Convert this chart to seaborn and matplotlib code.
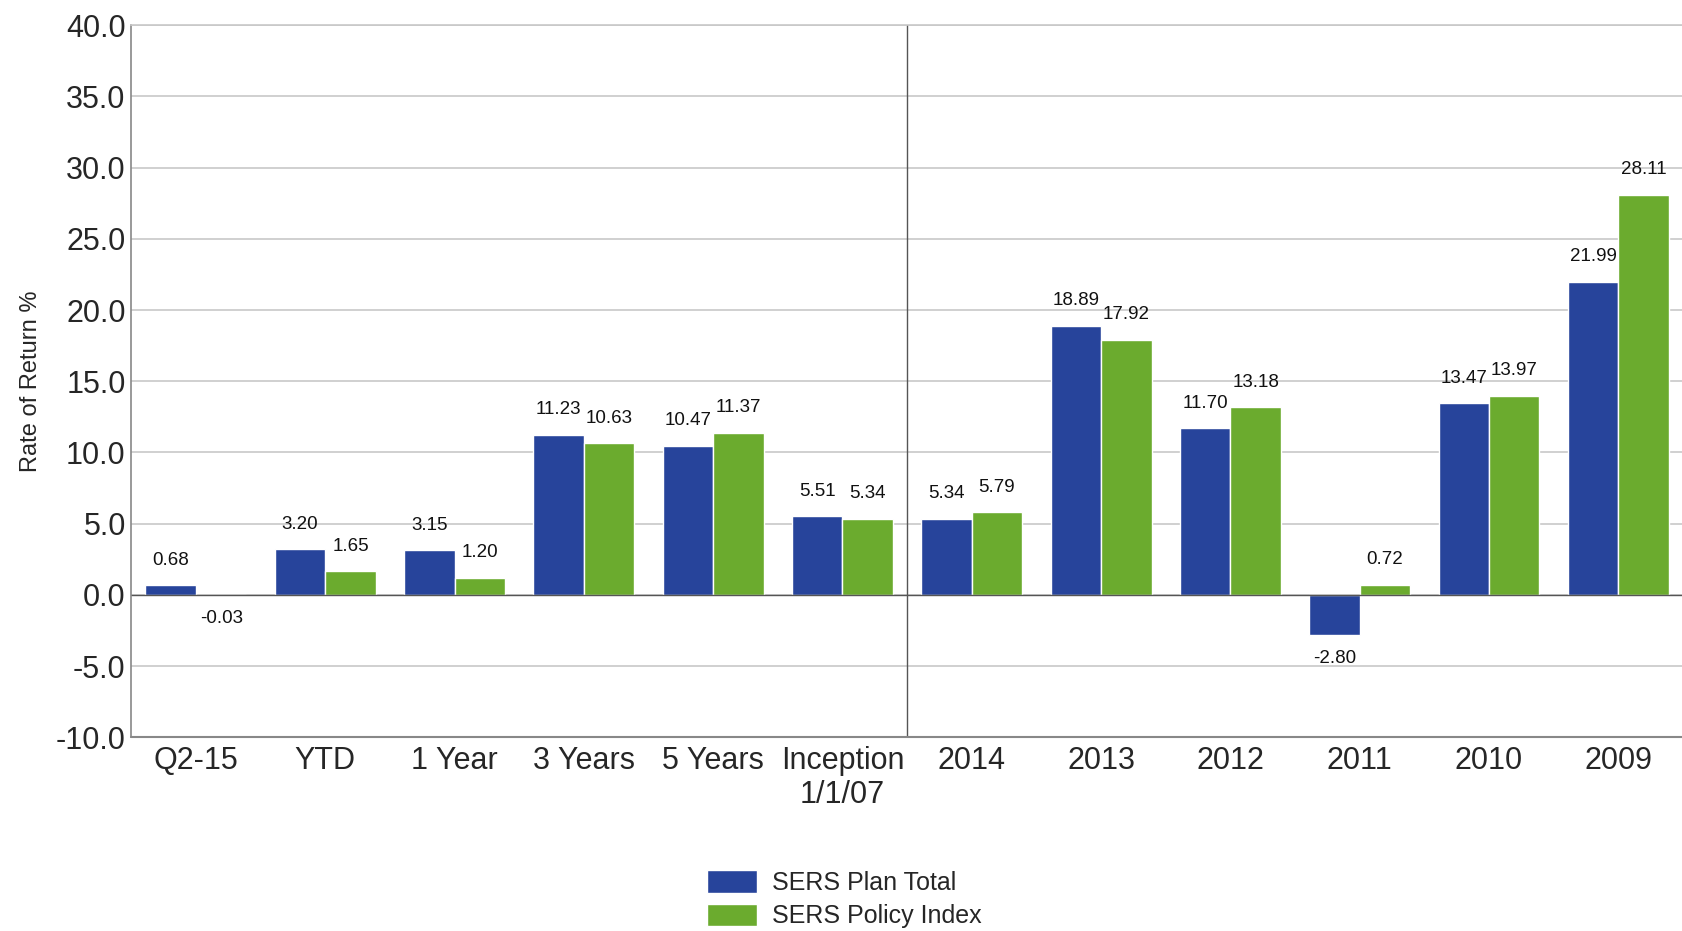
import numpy as np
import pandas as pd
import matplotlib
matplotlib.use("Agg")
import matplotlib.pyplot as plt
import matplotlib.font_manager as fm
import seaborn as sns

# ── data ──
periods = ["Q2-15", "YTD", "1 Year", "3 Years", "5 Years", "Inception\n1/1/07",
           "2014", "2013", "2012", "2011", "2010", "2009"]
plan_total = [0.68, 3.20, 3.15, 11.23, 10.47, 5.51, 5.34, 18.89, 11.70, -2.80, 13.47, 21.99]
policy_index = [-0.03, 1.65, 1.20, 10.63, 11.37, 5.34, 5.79, 17.92, 13.18, 0.72, 13.97, 28.11]
series_names = ["SERS Plan Total", "SERS Policy Index"]
y_ticks = [-10.0, -5.0, 0.0, 5.0, 10.0, 15.0, 20.0, 25.0, 30.0, 35.0, 40.0]

BLUE = "#27449B"
GREEN = "#6BAB2E"

sns.set_style("white")
names = {f.name for f in fm.fontManager.ttflist}
narrow = "Liberation Sans Narrow" if "Liberation Sans Narrow" in names else "Liberation Sans"
plt.rcParams["font.family"] = [narrow, "DejaVu Sans"]

df = pd.DataFrame({
    "period": periods * 2,
    "value": plan_total + policy_index,
    "series": [series_names[0]] * len(periods) + [series_names[1]] * len(periods),
})

fig = plt.figure(figsize=(16.83, 9.31), dpi=100)
ax = fig.add_axes([0.078, 0.208, 0.922, 0.765])

sns.barplot(data=df, x="period", y="value", hue="series", order=periods,
            hue_order=series_names, palette=[BLUE, GREEN], width=0.78,
            saturation=1, errorbar=None, ax=ax)

# value labels
for cont, vals in zip(ax.containers, [plan_total, policy_index]):
    for bar, v in zip(cont, vals):
        xc = bar.get_x() + bar.get_width() / 2
        off = 18 if v >= 0 else -17
        ax.annotate(f"{v:.2f}", (xc, v), xytext=(0, off), textcoords="offset points",
                    ha="center", va="center", fontsize=13.5, color="#111111")

ax.set_ylim(-10, 40)
ax.set_xlim(-0.5, 11.5)
ax.set_yticks(y_ticks)
ax.set_yticklabels([f"{t:.1f}" for t in y_ticks], fontsize=22)
ax.tick_params(axis="x", labelsize=22, length=0, pad=6)
ax.tick_params(axis="y", length=0, pad=4)
ax.yaxis.grid(True, color="#c8c8c8", linewidth=1.2)
ax.set_axisbelow(True)
ax.axhline(0, color="#555555", linewidth=1.0, zorder=1)
ax.axvline(5.5, color="#555555", linewidth=1.0)

for s in ["right", "bottom"]:
    ax.spines[s].set_visible(False)
ax.spines["top"].set_color("#c8c8c8")
ax.spines["top"].set_linewidth(1.2)
ax.spines["left"].set_color("#888888")
ax.spines["left"].set_linewidth(1.2)
ax.axhline(-10, color="#888888", linewidth=1.5, clip_on=False)

ax.set_xlabel("")
ax.set_ylabel("Rate of Return %", fontsize=17, labelpad=10)

handles, labels = ax.get_legend_handles_labels()
ax.legend_.remove()
fig.legend(handles, labels, loc="upper left", bbox_to_anchor=(0.414, 0.076),
           frameon=False, fontsize=18, handlelength=2.0, handleheight=1.0,
           handletextpad=0.6, labelspacing=0.35, borderaxespad=0)

fig.savefig("out.png", dpi=100, facecolor="white")
